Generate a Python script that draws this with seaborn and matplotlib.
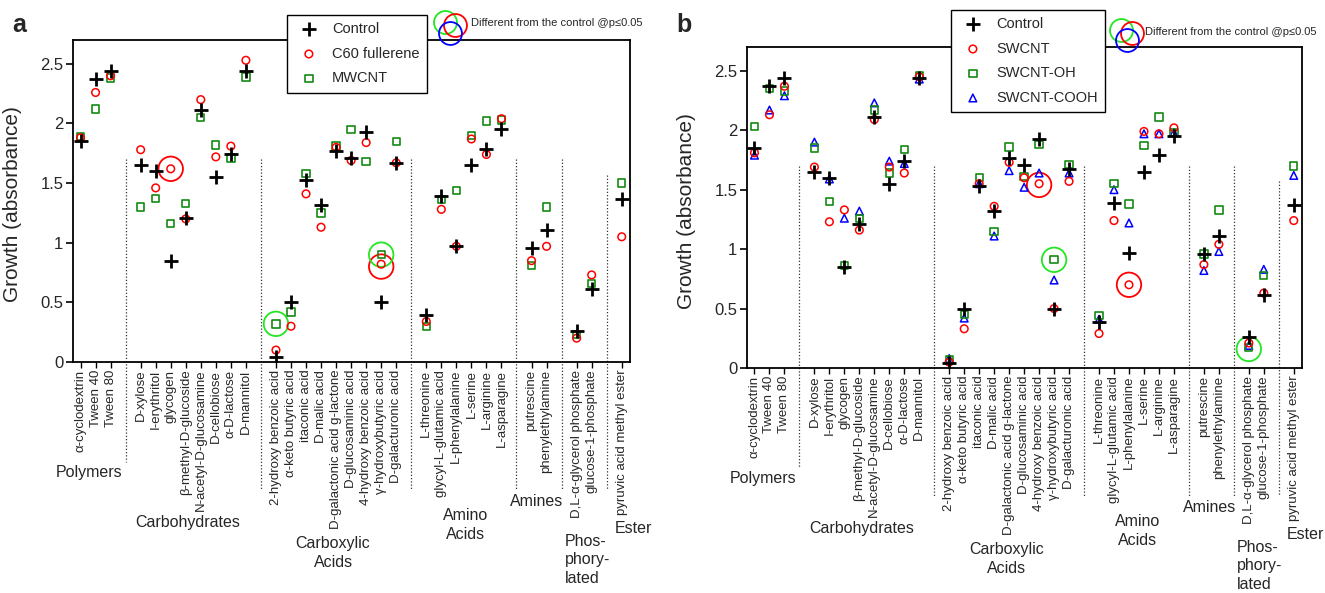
import numpy as np
import pandas as pd
import matplotlib
matplotlib.use("Agg")
import matplotlib.pyplot as plt
import seaborn as sns
from matplotlib.transforms import blended_transform_factory

# ---------------- data ----------------
substrates = [
    "α-cyclodextrin", "Tween 40", "Tween 80",
    "D-xylose", "I-erythritol", "glycogen", "β-methyl-D-glucoside",
    "N-acetyl-D-glucosamine", "D-cellobiose", "α-D-lactose", "D-mannitol",
    "2-hydroxy benzoic acid", "α-keto butyric acid", "itaconic acid", "D-malic acid",
    "D-galactonic acid g-lactone", "D-glucosaminic acid", "4-hydroxy benzoic acid",
    "γ-hydroxybutyric acid", "D-galacturonic acid",
    "L-threonine", "glycyl-L-glutamic acid", "L-phenylalanine", "L-serine",
    "L-arginine", "L-asparagine",
    "putrescine", "phenylethylamine",
    "D,L-α-glycerol phosphate", "glucose-1-phosphate",
    "pyruvic acid methyl ester",
]
group_names = ["Polymers", "Carbohydrates", "Carboxylic\nAcids", "Amino\nAcids",
               "Amines", "Phos-\nphory-\nlated", "Ester"]
group_sizes = [3, 8, 9, 6, 2, 2, 1]

control = [1.85, 2.37, 2.44, 1.65, 1.60, 0.85, 1.21, 2.11, 1.55, 1.74, 2.44,
           0.04, 0.50, 1.53, 1.32, 1.77, 1.71, 1.93, 0.50, 1.67,
           0.39, 1.39, 0.97, 1.65, 1.79, 1.95, 0.96, 1.11, 0.26, 0.61, 1.37]
c60 = [1.88, 2.26, 2.40, 1.78, 1.46, 1.62, 1.20, 2.20, 1.72, 1.81, 2.53,
       0.10, 0.30, 1.41, 1.13, 1.80, 1.69, 1.84, 0.82, 1.67,
       0.34, 1.28, 0.97, 1.87, 1.74, 2.04, 0.85, 0.97, 0.20, 0.73, 1.05]
mwcnt = [1.89, 2.12, 2.38, 1.30, 1.37, 1.16, 1.33, 2.05, 1.82, 1.71, 2.39,
         0.32, 0.42, 1.58, 1.25, 1.81, 1.95, 1.68, 0.90, 1.85,
         0.30, 1.36, 1.44, 1.90, 2.02, 2.03, 0.81, 1.30, 0.23, 0.66, 1.50]
swcnt = [1.81, 2.13, 2.37, 1.69, 1.23, 1.33, 1.16, 2.09, 1.69, 1.64, 2.45,
         0.05, 0.33, 1.55, 1.36, 1.73, 1.60, 1.55, 0.50, 1.57,
         0.29, 1.24, 0.70, 1.99, 1.97, 2.02, 0.87, 1.04, 0.21, 0.63, 1.24]
swcnt_oh = [2.03, 2.35, 2.33, 1.85, 1.40, 0.86, 1.26, 2.17, 1.64, 1.84, 2.46,
            0.07, 0.45, 1.60, 1.15, 1.86, 1.61, 1.88, 0.91, 1.71,
            0.44, 1.55, 1.38, 1.87, 2.11, 1.98, 0.96, 1.33, 0.17, 0.78, 1.70]
swcnt_cooh = [1.79, 2.17, 2.29, 1.90, 1.59, 1.26, 1.32, 2.23, 1.74, 1.72, 2.43,
              0.08, 0.42, 1.55, 1.11, 1.66, 1.52, 1.64, 0.74, 1.64,
              0.41, 1.50, 1.22, 1.97, 1.97, 1.98, 0.82, 0.98, 0.19, 0.83, 1.62]

# significance rings (substrate, value, colour key)
sig_a_sub = ["glycogen", "2-hydroxy benzoic acid", "γ-hydroxybutyric acid", "γ-hydroxybutyric acid"]
sig_a_val = [1.62, 0.32, 0.90, 0.80]
sig_a_col = ["red", "green", "green", "red"]
sig_b_sub = ["4-hydroxy benzoic acid", "γ-hydroxybutyric acid", "L-phenylalanine", "D,L-α-glycerol phosphate"]
sig_b_val = [1.54, 0.91, 0.70, 0.16]
sig_b_col = ["red", "green", "red", "green"]

sig_note = "Different from the control @p≤0.05"
ylabel = "Growth (absorbance)"

# ---------------- style ----------------
sns.set_theme(style="ticks")
plt.rcParams["font.family"] = ["Liberation Sans", "DejaVu Sans"]
plt.rcParams["axes.linewidth"] = 1.3

RED = "#ff0000"
SQ_GREEN = "#138a13"
RING_GREEN = "#22e622"
BLUE = "#0000ff"
ring_colors = {"red": RED, "green": RING_GREEN, "blue": BLUE}

W, H = 1325, 593
fig = plt.figure(figsize=(W / 100, H / 100), dpi=100)

# slot positions: each group followed by a separator slot
positions, separators = [], []
slot = 0
for gi, n in enumerate(group_sizes):
    for k in range(n):
        positions.append(slot)
        slot += 1
    if gi < len(group_sizes) - 1:
        separators.append(slot)
        slot += 1
pos_of = dict(zip(substrates, positions))

# group label layout: (x in slot units, px below axis to block centre, ha)
group_layout = [(0.57, 111, "center"), (7.13, 161, "center"), (16.8, 191, "center"),
                (25.6, 163, "center"), (30.35, 140, "center"), (32.2, 198, "left"),
                (35.55, 167, "left")]


def px2fig(x, y):
    return x / W, 1 - y / H


def draw_panel(rect, series, sig_sub, sig_val, sig_col, legend_xy, note_xy, rings_xy, letter, letter_xy):
    ax = fig.add_axes(rect)
    ax_h_px = rect[3] * H
    for name, vals, marker, col, size, lw, z in series:
        if marker == "+":
            sns.scatterplot(x=positions, y=vals, marker="+", s=size, color=col,
                            linewidth=lw, label=name, ax=ax, zorder=z)
        else:
            sns.scatterplot(x=positions, y=vals, marker=marker, s=size, color=col,
                            facecolor="none", edgecolor=col, linewidth=lw,
                            label=name, ax=ax, zorder=z)
    # significance rings
    for c in ["red", "green"]:
        xs = [pos_of[s] for s, cc in zip(sig_sub, sig_col) if cc == c]
        ys = [v for v, cc in zip(sig_val, sig_col) if cc == c]
        if xs:
            sns.scatterplot(x=xs, y=ys, marker="o", s=310, color=ring_colors[c],
                            facecolor="none", edgecolor=ring_colors[c], linewidth=1.3,
                            ax=ax, zorder=2)

    ax.set_xlim(-0.5, 36.55)
    ax.set_ylim(0, 2.7)
    ax.set_yticks([0, 0.5, 1, 1.5, 2, 2.5])
    ax.set_yticklabels(["0", "0.5", "1", "1.5", "2", "2.5"])
    ax.set_xticks(positions)
    ax.set_xticklabels(substrates, rotation=90)
    ax.tick_params(axis="y", length=5, width=1.2, labelsize=12, pad=2, color="black")
    ax.tick_params(axis="x", length=4, width=1.0, labelsize=9.5, pad=1.5, color="black")
    for sp in ax.spines.values():
        sp.set_visible(True)
        sp.set_color("black")
        sp.set_linewidth(1.3)
    ax.set_ylabel(ylabel, fontsize=15)
    ax.yaxis.set_label_coords(-0.092, 0.49)

    trans = blended_transform_factory(ax.transData, ax.transAxes)
    for i, s in enumerate(separators):
        top = (1.57 if i == len(separators) - 1 else 1.70) / 2.7
        bot = -(100 if i == 0 else 128) / ax_h_px
        ax.plot([s, s], [top, bot], transform=trans, clip_on=False,
                ls=(0, (1, 1.6)), color="#333333", lw=0.9, zorder=1)

    for name, (gx, dy, ha) in zip(group_names, group_layout):
        ax.annotate(name, xy=(gx, 0), xycoords=trans, xytext=(0, -dy / 1.389),
                    textcoords="offset points", ha=ha, va="center", fontsize=11.5,
                    linespacing=1.3, multialignment=ha, annotation_clip=False)

    leg = ax.legend(loc="upper left", bbox_to_anchor=px2fig(*legend_xy),
                    bbox_transform=fig.transFigure, frameon=True, fancybox=False,
                    edgecolor="black", framealpha=1, borderpad=0.5, labelspacing=0.72,
                    handlelength=2.0, handletextpad=0.6, fontsize=10.5, borderaxespad=0,
                    scatterpoints=1)
    leg.get_frame().set_linewidth(1.0)
    leg.set_zorder(10)

    for (rx, ry), c in zip(rings_xy, [RING_GREEN, RED, BLUE]):
        fx, fy = px2fig(rx, ry)
        ax.plot([fx], [fy], transform=fig.transFigure, marker="o", ms=16.5,
                mfc="none", mec=c, mew=1.3, clip_on=False, zorder=11)
    fx, fy = px2fig(*note_xy)
    fig.text(fx, fy, sig_note, fontsize=8, ha="left", va="center")
    lx, ly = px2fig(*letter_xy)
    fig.text(lx, ly, letter, fontsize=18, fontweight="bold", ha="left", va="baseline")
    return ax


series_a = [
    ("Control", control, "+", "black", 90, 2.0, 5),
    ("C60 fullerene", c60, "o", RED, 30, 1.1, 4),
    ("MWCNT", mwcnt, "s", SQ_GREEN, 28, 1.2, 3),
]
series_b = [
    ("Control", control, "+", "black", 90, 2.0, 6),
    ("SWCNT", swcnt, "o", RED, 30, 1.1, 5),
    ("SWCNT-OH", swcnt_oh, "s", SQ_GREEN, 28, 1.2, 4),
    ("SWCNT-COOH", swcnt_cooh, "^", BLUE, 30, 1.1, 3),
]

rect_a = [73 / W, (H - 362) / H, (630 - 73) / W, (362 - 40) / H]
rect_b = [747 / W, (H - 368) / H, (1302 - 747) / W, (368 - 47) / H]

draw_panel(rect_a, series_a, sig_a_sub, sig_a_val, sig_a_col,
           legend_xy=(287, 15), note_xy=(471, 23),
           rings_xy=[(445, 22), (455, 25), (450, 33)], letter="a", letter_xy=(12, 32))
draw_panel(rect_b, series_b, sig_b_sub, sig_b_val, sig_b_col,
           legend_xy=(951, 10), note_xy=(1145, 32),
           rings_xy=[(1121, 30), (1132, 33), (1127, 40)], letter="b", letter_xy=(676, 32))

fig.savefig("out.png", dpi=100)
